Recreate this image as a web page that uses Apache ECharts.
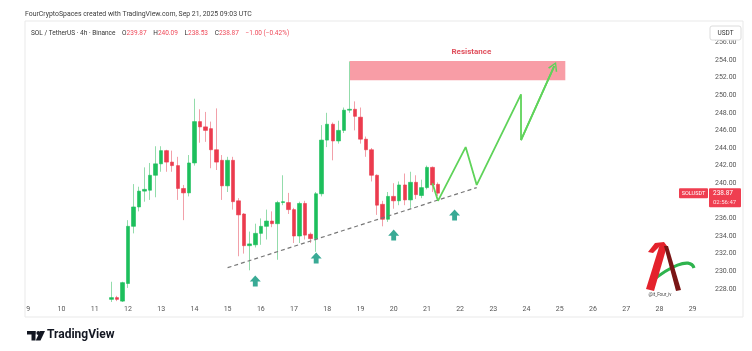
<!DOCTYPE html>
<html>
<head>
<meta charset="utf-8">
<script src="https://cdn.jsdelivr.net/npm/echarts@6/dist/echarts.min.js"></script>
<style>
  html, body { margin: 0; padding: 0; background: #fff; }
  #main { width: 752px; height: 351px; }
</style>
</head>
<body>
<div id="main"></div>
<script>
var chartDom = document.getElementById('main');
var myChart = echarts.init(chartDom);

// 4h slots on the x axis, the first one is Sep 8 20:00
const firstDay = 8;
const firstHour = 20;
const slotCount = 125;
const candleStart = 16; // Sep 11 12:00

// [open, high, low, close]
const candles = [
  [226.8, 228.8, 226.5, 227.0], [227.0, 227.2, 226.6, 226.8], [226.6, 228.8, 226.5, 228.7],
  [228.6, 235.8, 228.1, 235.1], [235.1, 239.9, 234.3, 237.3], [237.3, 239.6, 236.8, 239.1],
  [239.1, 241.8, 237.9, 239.3], [239.2, 242.3, 238.1, 240.9], [240.9, 244.2, 238.4, 242.2],
  [242.2, 244.2, 241.3, 243.7], [243.7, 243.8, 241.3, 242.4], [242.4, 243.7, 241.3, 242.0],
  [242.0, 243.0, 238.1, 239.4], [239.4, 239.8, 235.8, 238.9], [238.9, 243.2, 238.5, 242.3],
  [242.3, 249.6, 242.0, 247.0], [247.0, 248.4, 244.6, 246.4], [246.4, 248.1, 244.7, 246.0],
  [246.2, 247.0, 241.7, 243.8], [243.8, 248.5, 241.5, 242.4], [242.6, 243.2, 238.1, 239.7],
  [239.7, 243.0, 239.0, 242.6], [242.6, 243.0, 237.0, 237.9], [238.0, 238.3, 231.7, 236.4],
  [236.5, 236.6, 232.0, 232.9], [232.9, 234.5, 230.1, 233.1], [233.0, 235.4, 232.7, 234.3],
  [234.3, 236.0, 233.0, 235.1], [235.1, 237.0, 233.6, 235.7], [235.7, 236.8, 235.0, 235.4],
  [235.4, 238.0, 231.3, 237.8], [237.8, 240.9, 237.5, 237.9], [237.8, 238.9, 236.5, 237.0],
  [237.0, 237.2, 233.2, 234.0], [234.0, 237.9, 233.2, 237.7], [237.7, 238.0, 233.6, 234.1],
  [234.2, 234.4, 233.2, 233.7], [233.7, 239.0, 232.2, 238.8], [238.8, 246.6, 238.5, 244.9],
  [244.9, 248.0, 244.1, 246.7], [246.7, 246.9, 242.6, 244.8], [244.8, 247.1, 244.5, 246.0],
  [246.0, 248.6, 245.7, 248.3], [248.3, 253.8, 248.0, 248.4], [248.4, 249.3, 246.0, 247.6],
  [247.5, 248.6, 244.5, 245.0], [245.0, 245.3, 243.0, 243.8], [243.8, 244.0, 240.2, 240.9],
  [240.9, 241.0, 236.4, 237.5], [237.6, 238.0, 235.1, 235.9], [235.9, 239.0, 235.6, 238.5],
  [238.5, 240.0, 237.1, 238.0], [238.0, 240.2, 237.5, 239.8], [239.8, 241.1, 237.5, 238.1],
  [238.1, 241.3, 237.2, 240.1], [240.1, 240.9, 238.2, 238.7], [238.6, 240.4, 238.3, 239.5],
  [239.5, 242.0, 239.3, 241.8], [241.8, 241.9, 239.0, 239.8], [239.87, 240.09, 238.53, 238.87]
];

// drawings: [slot index, price]
const trendLine = [[37, 230.4], [82, 239.5]];
const projection = [[74, 240.0], [75, 238.0], [80, 244.1], [82, 239.8], [90, 250.1], [90, 244.9], [96, 253.3]];
const signalArrows = [[42, 228.9], [53, 231.5], [67, 234.1], [78, 236.4]];
const resistanceSlots = [59, 98];
const resistancePrices = [253.9, 251.7];
const lastPrice = 238.87;

const UP = '#1dbf5c', DOWN = '#eb3b4e';
const UP_WICK = '#93dcab', DOWN_WICK = '#f2a0a9';

const categories = [];
for (let i = 0; i < slotCount; i++) {
  const h = firstHour + i * 4;
  const day = firstDay + Math.floor(h / 24);
  const hour = h % 24;
  categories.push(day + ' ' + (hour < 10 ? '0' + hour : hour) + ':00');
}

const pad = new Array(candleStart).fill('-');
const wickData = pad.concat(candles.map(c => [c[0], c[3], c[2], c[1]]));
const bodyData = pad.concat(candles.map(c => [c[0], c[3], Math.min(c[0], c[3]), Math.max(c[0], c[3])]));

const chevron = 'path://M0,10 L5,0 L10,10 L8.6,10.8 L5,3 L1.4,10.8 Z';
const blockArrow = 'path://M5,0 L10,5.5 L7.2,5.5 L7.2,10 L2.8,10 L2.8,5.5 L0,5.5 Z';

var option = {
  animation: false,
  grid: { left: 20, right: 40, top: 24.8, bottom: 44.6 },
  xAxis: {
    type: 'category',
    data: categories,
    boundaryGap: true,
    axisLine: { show: false },
    axisTick: { show: false },
    splitLine: { show: false },
    axisLabel: {
      interval: (idx, val) => val.endsWith(' 00:00'),
      formatter: val => val.split(' ')[0],
      color: '#555', fontSize: 7, fontFamily: 'Roboto', margin: -1
    }
  },
  yAxis: {
    type: 'value',
    position: 'right',
    min: 226, max: 258, interval: 2,
    axisLine: { show: false },
    axisTick: { show: false },
    splitLine: { show: false },
    axisLabel: {
      formatter: v => v.toFixed(2),
      color: '#555', fontSize: 7, fontFamily: 'Roboto', margin: 3,
      showMinLabel: false, showMaxLabel: false
    }
  },
  series: [
    {
      type: 'candlestick',
      data: wickData,
      barWidth: 1,
      itemStyle: { color: UP_WICK, color0: DOWN_WICK, borderColor: UP_WICK, borderColor0: DOWN_WICK, borderWidth: 1 }
    },
    {
      type: 'candlestick',
      data: bodyData,
      barWidth: 4,
      itemStyle: { color: UP, color0: DOWN, borderColor: UP, borderColor0: DOWN, borderWidth: 0.6 },
      markArea: {
        silent: true,
        itemStyle: { color: 'rgba(242, 60, 78, 0.5)' },
        label: {
          show: true, position: 'top', offset: [14, 0],
          color: '#e04f5c', fontSize: 8, fontWeight: 'bold', fontFamily: 'Roboto'
        },
        data: [[
          { name: 'Resistance', coord: [resistanceSlots[0], resistancePrices[0]] },
          { coord: [resistanceSlots[1], resistancePrices[1]] }
        ]]
      },
      markLine: {
        silent: true,
        symbol: 'none',
        label: { show: false },
        lineStyle: { color: '#777', width: 1.2, type: [4, 3] },
        data: [[{ coord: trendLine[0] }, { coord: trendLine[1] }]]
      }
    },
    {
      type: 'line',
      data: projection,
      symbol: 'none',
      lineStyle: { color: '#5fd35a', width: 1.8 },
      z: 5,
      markLine: {
        silent: true,
        symbol: ['none', chevron],
        symbolSize: [10, 9],
        label: { show: false },
        lineStyle: { color: '#5fd35a', width: 1.8, type: 'solid' },
        data: [[{ coord: projection[projection.length - 2] }, { coord: projection[projection.length - 1] }]]
      }
    },
    {
      type: 'scatter',
      data: signalArrows,
      symbol: blockArrow,
      symbolSize: [11, 11],
      itemStyle: { color: '#08957a' },
      z: 6
    }
  ]
};

option && myChart.setOption(option);

const py = myChart.convertToPixel({ yAxisIndex: 0 }, lastPrice);

const graphics = [
  { type: 'rect', shape: { x: 25, y: 21, width: 718, height: 296 }, style: { fill: 'none', stroke: '#e9e9e9', lineWidth: 1 }, z: -1, silent: true },
  { type: 'text', left: 25, top: 10.5, style: { text: 'FourCryptoSpaces created with TradingView.com, Sep 21, 2025 09:03 UTC', fill: '#3c3c3c', fontSize: 6.9, fontFamily: 'Roboto' } },
  {
    type: 'text', left: 31, top: 27.5,
    style: {
      text: '{k|SOL / TetherUS · 4h · Binance}  {k|O}{v|239.87}  {k|H}{v|240.09}  {k|L}{v|238.53}  {k|C}{v|238.87}  {v|−1.00 (−0.42%)}',
      rich: {
        k: { fill: '#333', fontSize: 6.5, fontFamily: 'Roboto' },
        v: { fill: '#ef4a5a', fontSize: 6.5, fontFamily: 'Roboto' }
      }
    }
  },
  { type: 'rect', shape: { x: 710, y: 26, width: 31, height: 14, r: 2 }, style: { fill: '#fff', stroke: '#dcdcdc', lineWidth: 1 }, z: 10 },
  { type: 'text', x: 725.5, y: 33, style: { text: 'USDT', fill: '#333', fontSize: 6.5, fontFamily: 'Roboto', align: 'center', verticalAlign: 'middle' }, z: 11 },
  { type: 'rect', shape: { x: 679, y: py - 5, width: 29, height: 10, r: 1 }, style: { fill: '#ef3e50' }, z: 10 },
  { type: 'text', x: 693.5, y: py, style: { text: 'SOLUSDT', fill: '#fff', fontSize: 5.5, fontFamily: 'Roboto', align: 'center', verticalAlign: 'middle' }, z: 11 },
  { type: 'rect', shape: { x: 709, y: py - 5, width: 32, height: 19, r: 1 }, style: { fill: '#ef3e50' }, z: 10 },
  { type: 'text', x: 713, y: py, style: { text: '238.87', fill: '#fff', fontSize: 6.5, fontFamily: 'Roboto', verticalAlign: 'middle' }, z: 11 },
  { type: 'text', x: 713, y: py + 9, style: { text: '02:56:47', fill: '#ffe0e3', fontSize: 6, fontFamily: 'Roboto', verticalAlign: 'middle' }, z: 11 },
  // watermark
  { type: 'bezierCurve', shape: { x1: 652, y1: 281, cpx1: 668, cpy1: 268, cpx2: 690, cpy2: 256, x2: 694, y2: 268 }, style: { stroke: '#2eb34d', lineWidth: 3.2, fill: 'none' } },
  { type: 'polygon', shape: { points: [[648, 252], [655, 243], [664, 242], [667, 246], [660, 246], [653, 253]] }, style: { fill: '#e4222c' } },
  { type: 'polygon', shape: { points: [[660, 244], [667, 246], [654, 291], [646, 289]] }, style: { fill: '#e4222c' } },
  { type: 'polygon', shape: { points: [[664, 246], [668, 246], [681, 290], [676, 291]] }, style: { fill: '#7a1515' } },
  { type: 'text', x: 660, y: 295, style: { text: '@it_Four_iv', fill: '#444', fontSize: 4.5, fontFamily: 'Roboto', align: 'center', verticalAlign: 'middle' } },
  // TradingView footer
  { type: 'rect', shape: { x: 27, y: 331, width: 8.5, height: 3.5 }, style: { fill: '#131722' } },
  { type: 'rect', shape: { x: 31.5, y: 331, width: 4, height: 9.5 }, style: { fill: '#131722' } },
  { type: 'circle', shape: { cx: 38.3, cy: 333, r: 1.9 }, style: { fill: '#131722' } },
  { type: 'polygon', shape: { points: [[40, 331], [45, 331], [40.5, 340.5], [35.8, 340.5]] }, style: { fill: '#131722' } },
  { type: 'text', left: 47, top: 329, style: { text: 'TradingView', fill: '#131722', fontSize: 12, fontWeight: 'bold', fontFamily: 'Roboto' } }
];

myChart.setOption({ graphic: graphics });
</script>
</body>
</html>
